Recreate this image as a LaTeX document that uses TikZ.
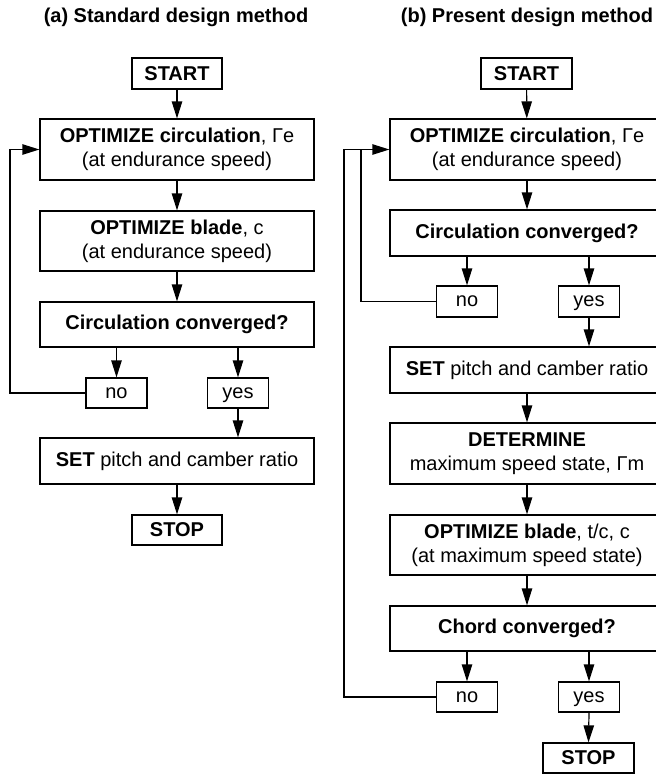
\documentclass[tikz,border=0pt]{standalone}
\usepackage{fontspec}
\setmainfont{Liberation Sans}
\usetikzlibrary{arrows.meta}
\tikzset{
	box/.style={draw, line width=0.6pt, align=center, inner sep=0pt, minimum width=137pt},
	smallbox/.style={draw, line width=0.6pt, inner sep=0pt, text height=6pt, text depth=0.8pt, minimum width=30.5pt, minimum height=15pt},
	arr/.style={line width=0.6pt, -{Triangle[length=8.5pt, width=5.2pt]}},
	line/.style={line width=0.6pt}
}

\begin{document}
\begin{tikzpicture}[x=0.5pt, y=-0.5pt, every node/.style={font=\fontsize{10}{12}\selectfont}]
		%%%%% START %%%%%
		\useasboundingbox (0, 0) rectangle (656, 777);
		
		% (a) standard
		\node[font=\fontsize{10}{12}\selectfont\bfseries] (titleA) at (176, 17) {(a) Standard design method};
		\node[box, minimum width=45pt, minimum height=15.5pt] (startA) at (177, 73.5) {\textbf{START}};
		\node[box, minimum height=30.5pt] (circA) at (177, 149.5) {\textbf{OPTIMIZE circulation}, Γe\\(at endurance speed)};
		\node[box, minimum height=30pt] (bladeA) at (177, 241) {\textbf{OPTIMIZE blade}, c\\(at endurance speed)};
		\node[box, minimum height=22.5pt] (convA) at (177, 324.5) {\textbf{Circulation converged?}};
		\node[smallbox] (noA) at (116.5, 393) {no};
		\node[smallbox] (yesA) at (238, 393) {yes};
		\node[box, minimum height=23pt] (setA) at (177, 461) {\textbf{SET} pitch and camber ratio};
		\node[box, minimum width=45pt, minimum height=15pt] (stopA) at (177, 530) {\textbf{STOP}};
		\coordinate (loopA) at (10, 149.5);
		
		\draw[arr] (startA) -- (circA);
		\draw[arr] (circA) -- (bladeA);
		\draw[arr] (bladeA) -- (convA);
		\draw[arr] (noA |- convA.south) -- (noA.north);
		\draw[arr] (yesA |- convA.south) -- (yesA.north);
		\draw[arr] (noA.west) -| (loopA) -- (circA.west);
		\draw[arr] (yesA.south) -- (yesA |- setA.north);
		\draw[arr] (setA) -- (stopA);
		
		% (b) present
		\node[font=\fontsize{10}{12}\selectfont\bfseries] (titleB) at (527, 17) {(b) Present design method};
		\node[box, minimum width=45.5pt, minimum height=15.5pt] (startB) at (526.5, 73.5) {\textbf{START}};
		\node[box, minimum height=30.5pt] (circB) at (527, 149.5) {\textbf{OPTIMIZE circulation}, Γe\\(at endurance speed)};
		\node[box, minimum height=23pt] (convB) at (527, 233) {\textbf{Circulation converged?}};
		\node[smallbox, minimum height=15.5pt] (noB) at (467, 301.5) {no};
		\node[smallbox, minimum height=15.5pt] (yesB) at (589, 301.5) {yes};
		\node[box, minimum height=23pt] (setB) at (527, 370) {\textbf{SET} pitch and camber ratio};
		\node[box, minimum height=30.5pt] (detB) at (527, 453.5) {\textbf{DETERMINE}\\maximum speed state, Γm};
		\node[box, minimum height=30pt] (bladeB) at (527, 545) {\textbf{OPTIMIZE blade}, t/c, c\\(at maximum speed state)};
		\node[box, minimum height=22.5pt] (chordB) at (527, 628.5) {\textbf{Chord converged?}};
		\node[smallbox] (noBB) at (467, 697) {no};
		\node[smallbox] (yesBB) at (589, 697) {yes};
		\node[box, minimum width=45.5pt, minimum height=15pt] (stopB) at (588.5, 758) {\textbf{STOP}};
		\coordinate (loopB) at (361, 149.5);
		\coordinate (loopBB) at (344, 149.5);
		
		\draw[arr] (startB) -- (circB);
		\draw[arr] (circB) -- (convB);
		\draw[arr] (noB |- convB.south) -- (noB.north);
		\draw[arr] (yesB |- convB.south) -- (yesB.north);
		\draw[arr] (noB.west) -| (loopB) -- (circB.west);
		\draw[arr] (yesB.south) -- (yesB |- setB.north);
		\draw[arr] (setB) -- (detB);
		\draw[arr] (detB) -- (bladeB);
		\draw[arr] (bladeB) -- (chordB);
		\draw[arr] (noBB |- chordB.south) -- (noBB.north);
		\draw[arr] (yesBB |- chordB.south) -- (yesBB.north);
		\draw[line] (noBB.west) -| (loopBB) -- (loopB);
		\draw[arr] (yesBB.south) -- (stopB.north);
		
		%%%%% END %%%%%
	\end{tikzpicture}
\end{document}
